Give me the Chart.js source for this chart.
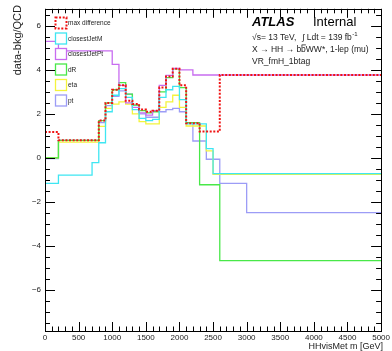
<!DOCTYPE html>
<html>
<head>
<meta charset="utf-8">
<script src="https://cdn.jsdelivr.net/npm/chart.js@4.4.1/dist/chart.umd.min.js"></script>
<style>
  html, body { margin: 0; padding: 0; background: #fff; }
</style>
</head>
<body>
<canvas id="chart" width="392" height="351"></canvas>
<script>
// bin edges of the HHvisMet m histograms (GeV)
const binEdges = [0, 200, 700, 800, 900, 1000, 1100, 1200, 1300, 1400, 1500, 1600, 1700,
                  1800, 1900, 2000, 2100, 2200, 2300, 2400, 2500, 2600, 3000, 5000];

// data-bkg/QCD per bin, one array per variable
const maxDifference = [1.18, 0.8, 0.8, 1.7, 2.5, 3.1, 3.3, 2.6, 2.45, 2.2, 2.1, 2.15, 3.2,
                       3.7, 4.05, 3.3, 1.58, 1.58, 1.2, 1.2, 1.2, 3.77, 3.77];
const closestJetM   = [-1.16, -0.78, -0.21, 0.69, 2.1, 2.85, 3.15, 2.75, 2.2, 1.8, 1.7, 1.75, 2.75,
                       3.1, 3.25, 2.65, 1.55, 1.55, 1.55, 0.42, -0.71, -0.71, -0.71];
const closestJetPt  = [5.3, 4.87, 4.87, 4.87, 4.87, 4.25, 3.3, 2.5, 2.3, 2.05, 1.95, 2.15, 3.3,
                       3.75, 4.07, 4.0, 4.0, 3.77, 3.77, 3.77, 3.77, 3.77, 3.77];
const dR            = [0.0, 0.8, 0.8, 1.7, 2.5, 3.1, 3.42, 2.9, 2.4, 2.15, 2.05, 2.1, 3.0,
                       3.65, 4.05, 3.2, 1.6, 1.6, -1.22, -1.22, -1.22, -4.67, -4.67];
const eta           = [0.0, 0.72, 0.72, 1.43, 2.25, 2.45, 2.55, 2.45, 2.0, 1.65, 1.55, 1.55, 2.3,
                       2.55, 2.85, 2.3, 1.45, 1.45, 1.45, 0.32, -0.75, -0.75, -0.75];
const pt            = [-0.03, 0.8, 0.8, 1.6, 2.38, 2.8, 3.05, 2.9, 2.4, 2.0, 1.85, 1.85, 2.1,
                       2.2, 2.25, 2.1, 1.58, 0.77, 0.77, -0.06, -0.06, -1.16, -2.49];

const seriesNames = ['max difference', 'closestJetM', 'closestJetPt', 'dR', 'eta', 'pt'];
const xTickValues = [0, 500, 1000, 1500, 2000, 2500, 3000, 3500, 4000, 4500, 5000];
const yTickValues = [-6, -4, -2, 0, 2, 4, 6];

const FONT = "'Liberation Sans', Arial, sans-serif";
const colors = ['#f01414', '#3ee6f2', '#c86cf0', '#48e848', '#f4f43c', '#9c9cf6'];

// histogram -> step points (left edge of every bin + closing right edge)
function toSteps(vals) {
  const pts = vals.map((v, i) => ({ x: binEdges[i], y: v }));
  pts.push({ x: binEdges[binEdges.length - 1], y: vals[vals.length - 1] });
  return pts;
}

const allSeries = [maxDifference, closestJetM, closestJetPt, dR, eta, pt];
const datasets = allSeries.map((vals, i) => ({
  label: seriesNames[i],
  data: toSteps(vals),
  stepped: true,
  borderColor: colors[i],
  borderWidth: i === 0 ? 2 : 1.3,
  borderDash: i === 0 ? [2, 1.6] : [],
  borderJoinStyle: 'miter',
  pointRadius: 0,
  fill: false,
  order: i
}));

// ROOT style frame with inward ticks on all four sides
const frameTicks = {
  id: 'frameTicks',
  afterDatasetsDraw(chart) {
    const { ctx, chartArea: a, scales: { x, y } } = chart;
    ctx.save();
    ctx.strokeStyle = '#000';
    ctx.lineWidth = 1;
    ctx.beginPath();
    for (let v = 0; v <= 5000; v += 100) {
      const px = Math.round(x.getPixelForValue(v)) + 0.5;
      const len = v % 500 === 0 ? 9 : 4.5;
      ctx.moveTo(px, a.bottom); ctx.lineTo(px, a.bottom - len);
      ctx.moveTo(px, a.top); ctx.lineTo(px, a.top + len);
    }
    for (let v = -7.5; v <= 6.5; v += 0.5) {
      const py = Math.round(y.getPixelForValue(v)) + 0.5;
      const len = v % 2 === 0 ? 10 : 5;
      ctx.moveTo(a.left, py); ctx.lineTo(a.left + len, py);
      ctx.moveTo(a.right, py); ctx.lineTo(a.right - len, py);
    }
    ctx.stroke();
    ctx.strokeRect(Math.round(a.left) + 0.5, Math.round(a.top) + 0.5,
                   Math.round(a.right - a.left), Math.round(a.bottom - a.top));
    ctx.restore();
  }
};

// legend with hollow boxes, like TLegend "f" entries
const boxLegend = {
  id: 'boxLegend',
  afterDatasetsDraw(chart) {
    const ctx = chart.ctx;
    ctx.save();
    ctx.font = '6.5px ' + FONT;
    ctx.textBaseline = 'middle';
    seriesNames.forEach((name, i) => {
      const top = 17.5 + i * 15.5;
      ctx.fillStyle = '#fff';
      ctx.fillRect(55.5, top, 11, 11);
      ctx.strokeStyle = colors[i];
      ctx.lineWidth = i === 0 ? 2 : 1.3;
      ctx.setLineDash(i === 0 ? [2, 1.6] : []);
      ctx.strokeRect(55.5, top, 11, 11);
      ctx.setLineDash([]);
      ctx.fillStyle = '#222';
      ctx.fillText(name, 68, top + 6);
    });
    ctx.restore();
  }
};

// ATLAS label, axis titles
const labels = {
  id: 'labels',
  afterDraw(chart) {
    const ctx = chart.ctx;
    ctx.save();
    ctx.fillStyle = '#000';
    ctx.textBaseline = 'alphabetic';
    ctx.font = 'italic bold 13px ' + FONT;
    ctx.fillText('ATLAS', 252, 26);
    ctx.font = '13px ' + FONT;
    ctx.fillText('Internal', 313, 26);

    ctx.fillStyle = '#222';
    ctx.font = '8.5px ' + FONT;
    let x0 = 252;
    ctx.fillText('\u221As= 13 TeV,', x0, 40);
    ctx.fillText('\u222B Ldt = 139 fb', 302, 40);
    let w = ctx.measureText('\u222B Ldt = 139 fb').width;
    ctx.font = '6px ' + FONT;
    ctx.fillText('-1', 302 + w + 0.5, 36);

    ctx.font = '8.5px ' + FONT;
    const p1 = 'X \u2192 HH \u2192 b';
    ctx.fillText(p1, x0, 52);
    let cx = x0 + ctx.measureText(p1).width;
    const bw = ctx.measureText('b').width;
    ctx.fillText('b', cx, 52);
    ctx.fillRect(cx + 0.5, 44.5, bw - 0.5, 0.8);
    cx += bw;
    ctx.fillText('WW*, 1-lep (mu)', cx, 52);
    ctx.fillText('VR_fmH_1btag', x0, 64);

    // x title
    ctx.font = '9px ' + FONT;
    ctx.textAlign = 'right';
    ctx.textBaseline = 'middle';
    ctx.fillText('HHvisMet m [GeV]', 383, 347);

    // y title
    ctx.font = '11px ' + FONT;
    ctx.translate(18, 5);
    ctx.rotate(-Math.PI / 2);
    ctx.fillText('data-bkg/QCD', 0, 0);
    ctx.restore();
  }
};

new Chart(document.getElementById('chart').getContext('2d'), {
  type: 'line',
  data: { datasets },
  options: {
    responsive: false,
    animation: false,
    devicePixelRatio: 1,
    layout: { padding: { top: 7, right: 9, left: 0, bottom: 0 } },
    plugins: { legend: { display: false }, tooltip: { enabled: false } },
    scales: {
      x: {
        type: 'linear',
        min: 0,
        max: 5000,
        grid: { display: false, drawTicks: false },
        border: { display: false },
        afterBuildTicks: s => { s.ticks = xTickValues.map(v => ({ value: v })); },
        afterFit: s => { s.height = 20; },
        ticks: {
          autoSkip: false, maxRotation: 0, padding: 2,
          color: '#222', font: { size: 8, family: FONT },
          callback: v => String(v)
        }
      },
      y: {
        type: 'linear',
        min: -7.87,
        max: 6.78,
        grid: { display: false, drawTicks: false },
        border: { display: false },
        afterBuildTicks: s => { s.ticks = yTickValues.map(v => ({ value: v })); },
        afterFit: s => { s.width = 45; },
        ticks: {
          padding: 4,
          color: '#222', font: { size: 8, family: FONT },
          callback: v => (v < 0 ? '\u2212' + Math.abs(v) : String(v))
        }
      }
    }
  },
  plugins: [boxLegend, frameTicks, labels]
});
</script>
</body>
</html>
